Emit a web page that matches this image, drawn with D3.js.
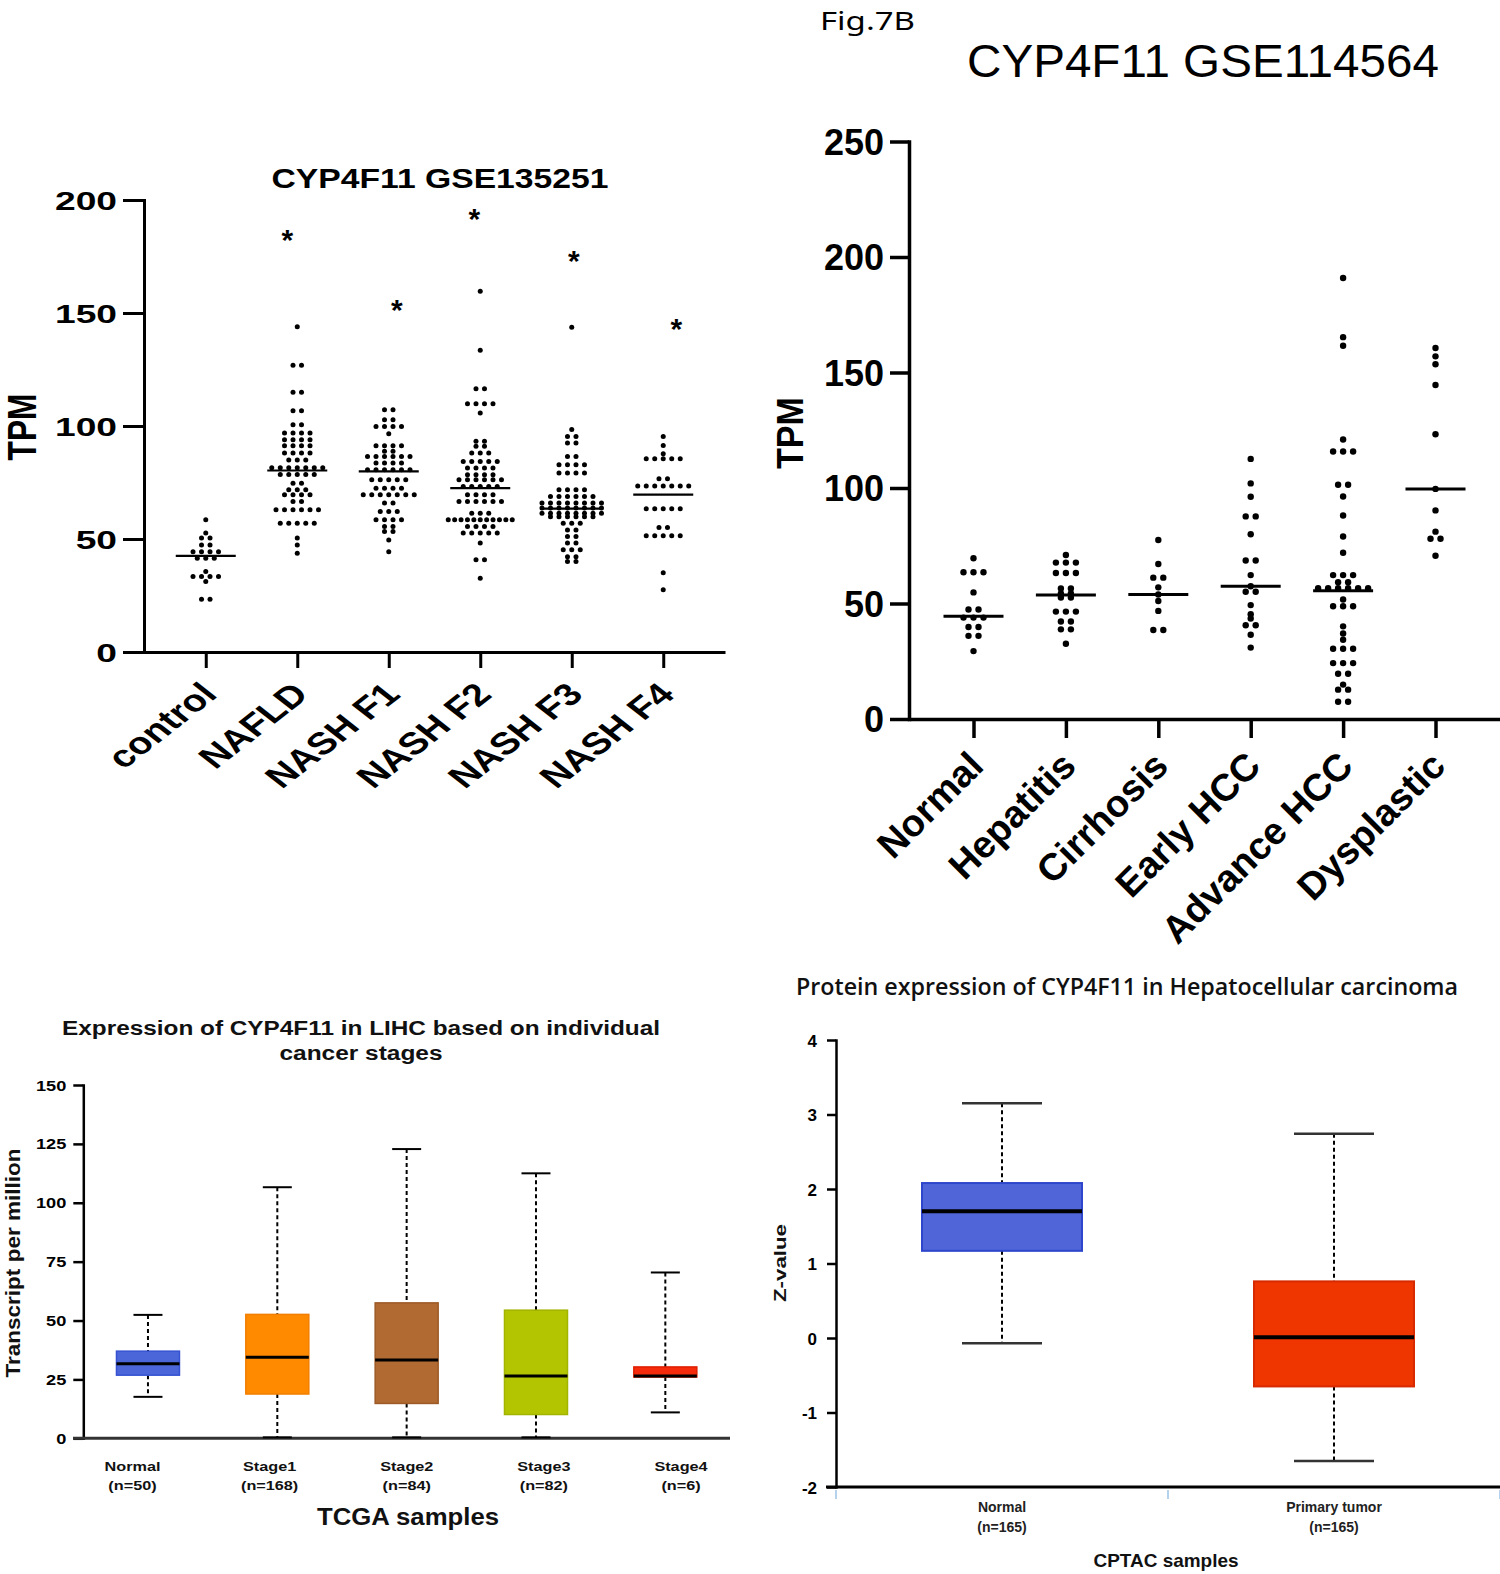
<!DOCTYPE html>
<html><head><meta charset="utf-8">
<script src="https://cdn.jsdelivr.net/npm/d3@7"></script>
<style>body{margin:0;background:#fff} svg{display:block;background:#fff}</style>
</head><body>
<svg id="c" width="1500" height="1574"></svg>
<script>
// ---------------- DATA ----------------
// Panel A (top-left): CYP4F11 GSE135251, TPM
const tlCategories = ["control", "NAFLD", "NASH F1", "NASH F2", "NASH F3", "NASH F4"];
const tlTicks = [0, 50, 100, 150, 200];
const tlControl = [58.5, 52.6, 50.4, 50.4, 47.4, 47.4, 44.4, 44.4, 44.4, 44.4, 41.5, 41.5, 41.5, 35.6, 33.4, 33.4, 33.4, 33.4, 31.2, 23.3, 23.3];
const tlNAFLD = [143.9, 126.9, 126.9, 114.9, 114.9, 106.8, 106.8, 100.6, 100.6, 96.9, 96.9, 96.9, 96.9, 93.9, 93.9, 93.9, 93.9,
  91.3, 91.3, 91.3, 91.3, 88, 88, 88, 88, 85, 85, 85, 81.5, 81.5, 81.5, 81.5, 81.5, 81.5, 81.5, 78.5, 78.5, 78.5, 78.5, 78.5,
  74.7, 74.7, 71.8, 71.8, 71.8, 69.6, 69.6, 69.6, 69.6, 66.6, 66.6, 62.9, 62.9, 62.9, 62.9, 62.9, 62.9, 57, 57, 57, 57, 57, 50.4, 47.4, 43.7];
const tlF1 = [107.2, 107.2, 102.8, 102.8, 99.8, 99.8, 99.8, 99.8, 96.6, 91.3, 91.3, 91.3, 91.3, 88.8, 88.8, 86.5, 86.5, 86.5, 86.5, 86.5, 86.5,
  83.6, 83.6, 83.6, 83.6, 80.6, 80.6, 80.6, 80.6, 80.6, 80.6, 76.2, 76.2, 76.2, 76.2, 76.2, 72.5, 72.5, 72.5, 72.5,
  69.6, 69.6, 69.6, 69.6, 69.6, 69.6, 69.6, 65.9, 65.9, 62.2, 62.2, 62.2, 58.5, 58.5, 58.5, 58.5, 55.5, 55.5, 53.3, 53.3, 49.6, 44.4];
const tlF2 = [159.6, 133.5, 116.5, 116.5, 109.9, 109.9, 109.9, 109.9, 105.7, 93.2, 93.2, 91, 91, 88, 88, 88, 84.3, 84.3, 84.3, 84.3, 84.3,
  81.4, 81.4, 81.4, 81.4, 78.4, 78.4, 78.4, 78.4, 76.2, 76.2, 76.2, 76.2, 76.2, 76.2, 73.2, 73.2, 73.2, 73.2, 73.2, 69.6, 69.6, 69.6, 69.6,
  66.6, 66.6, 66.6, 66.6, 66.6, 66.6, 61.4, 61.4, 61.4, 58.5, 58.5, 58.5, 58.5, 58.5, 58.5, 58.5, 58.5, 58.5, 58.5, 58.5,
  55.5, 55.5, 55.5, 55.5, 52.6, 52.6, 52.6, 52.6, 52.6, 48.2, 40.8, 40.8, 32.6];
const tlF3 = [143.7, 98.4, 95.4, 95.4, 92.5, 92.5, 86.5, 86.5, 82.9, 82.9, 82.9, 82.9, 79.2, 79.2, 79.2, 79.2, 71.8, 71.8, 71.8, 71.8,
  68.8, 68.8, 68.8, 68.8, 68.8, 68.8, 65.9, 65.9, 65.9, 65.9, 65.9, 65.9, 65.9, 65.9, 63.7, 63.7, 63.7, 63.7, 63.7, 63.7, 63.7, 63.7,
  61.4, 61.4, 61.4, 61.4, 61.4, 61.4, 61.4, 61.4, 59.9, 59.9, 59.9, 59.9, 59.9, 59.9, 57, 57, 57, 54, 54, 51.1, 51.1, 48.2, 48.2,
  45.2, 45.2, 45.2, 42.2, 42.2, 40, 40];
const tlF4 = [95.4, 91.4, 87.7, 85.5, 85.5, 85.5, 85.5, 85.5, 76.7, 76.7, 73.5, 73.5, 73.5, 73.5, 73.5, 73.5, 73.5,
  63.4, 63.4, 63.4, 63.4, 63.4, 55.1, 55.1, 51.4, 51.4, 51.4, 51.4, 51.4, 35.1, 27.5];
const tlMedians = [42.5, 80.3, 79.9, 72.5, 63.4, 69.6];
const tlStars = [null, 185.6, 154.6, 194.5, 175.9, 146.2];

// Panel B (top-right): CYP4F11 GSE114564, TPM
const trCategories = ["Normal", "Hepatitis", "Cirrhosis", "Early HCC", "Advance HCC", "Dysplastic"];
const trTicks = [0, 50, 100, 150, 200, 250];
const trNormal = [69.6, 63.5, 63.5, 63.5, 54.8, 47.4, 47.4, 43.9, 43.9, 43.9, 39.8, 39.8, 36, 36, 29.4];
const trHepatitis = [71, 67.7, 67.7, 67.7, 63.2, 63.2, 63.2, 56.5, 56.5, 54.3, 54.3, 52.6, 52.6, 46.5, 46.5, 46.5, 42.2, 42.2, 38.8, 38.8, 32.6];
const trCirrhosis = [77.5, 67.1, 61.2, 61.2, 57, 53.9, 51.1, 46.8, 38.5, 38.5];
const trEarly = [112.6, 102, 96.2, 87.7, 87.7, 80, 68.6, 68.6, 62.3, 57.5, 55.1, 55.1, 49.3, 45.4, 43.5, 40.6, 40.6, 36.5, 30.9];
const trAdvance = [190.9, 165.3, 161.6, 121, 115.8, 115.8, 115.8, 101.4, 101.4, 96.3, 88.1, 79, 72, 62.3, 62.3, 62.3, 59.2, 59.2,
  56.6, 56.6, 56.6, 56.6, 56.6, 56.6, 51.7, 48.8, 48.8, 48.8, 40.1, 37, 34.3, 30.4, 30.4, 30.4, 24.2, 24.2, 24.2,
  19.6, 19.6, 14.9, 12.7, 12.7, 7.5, 7.5];
const trDysplastic = [160.6, 157, 153.6, 144.6, 123.3, 99.6, 90.3, 81.1, 78, 78, 70.7];
const trMedians = [44.5, 53.7, 53.9, 57.5, 55.5, 99.6];

// Panel C (bottom-left): TCGA LIHC by stage, TPM box plot
const blCategories = ["Normal", "Stage1", "Stage2", "Stage3", "Stage4"];
const blCounts = ["(n=50)", "(n=168)", "(n=84)", "(n=82)", "(n=6)"];
const blTicks = [0, 25, 50, 75, 100, 125, 150];
const blWhiskerHigh = [52.4, 106.6, 122.8, 112.5, 70.4];
const blQ3 = [37.0, 52.6, 57.5, 54.4, 30.3];
const blMedian = [31.7, 34.4, 33.2, 26.4, 26.4];
const blQ1 = [26.8, 18.8, 14.8, 10.1, 26.0];
const blWhiskerLow = [17.6, 0.4, 0.4, 0.4, 11.0];
const blColors = ["#4a66d9", "#ff8a00", "#b06a32", "#b3c500", "#f52b0c"];
const blStrokes = ["#3652d2", "#f27e00", "#9d5a26", "#a3b400", "#e01f00"];

// Panel D (bottom-right): CPTAC protein, Z-value box plot
const brCategories = ["Normal", "Primary tumor"];
const brCounts = ["(n=165)", "(n=165)"];
const brTicks = [-2, -1, 0, 1, 2, 3, 4];
const brWhiskerHigh = [3.15, 2.74];
const brQ3 = [2.08, 0.76];
const brMedian = [1.70, 0.01];
const brQ1 = [1.17, -0.65];
const brWhiskerLow = [-0.07, -1.65];
const brColors = ["#4f65d8", "#ef3500"];
const brStrokes = ["#2d46cc", "#d72a00"];

// ---------------- HELPERS ----------------
const FONT = '"Liberation Sans", Arial, Helvetica, sans-serif';
const svg = d3.select('#c');

function addText(g, o) {
  const t = g.append('text').text(o.text)
    .attr('font-family', o.family || FONT)
    .attr('font-size', o.size)
    .attr('font-weight', o.weight || 'normal')
    .attr('text-anchor', o.anchor || 'middle')
    .attr('fill', o.fill || '#000');
  let tr = `translate(${o.x},${o.y})`;
  if (o.sx) tr += ` scale(${o.sx},1)`;
  if (o.rotate) tr += ` rotate(${o.rotate})`;
  t.attr('transform', tr);
  if (o.len) t.attr('textLength', o.len).attr('lengthAdjust', 'spacingAndGlyphs');
  return t;
}

function swarm(values, spacing, maxWidth) {
  const rows = d3.group(values, v => v);
  const pts = [];
  for (const [v, arr] of rows) {
    const n = arr.length;
    const sp = n > 1 ? Math.min(spacing, maxWidth / (n - 1)) : 0;
    arr.forEach((_, i) => pts.push({ v, dx: (i - (n - 1) / 2) * sp }));
  }
  return pts;
}

function styleYAxis(ax, o) {
  ax.attr('font-family', FONT);
  ax.select('.domain').attr('stroke', '#000').attr('stroke-width', o.w).attr('stroke-linecap', 'square');
  ax.selectAll('.tick line').attr('stroke', '#000').attr('stroke-width', o.w);
  ax.selectAll('.tick text')
    .attr('x', -o.gap / (o.sx || 1)).attr('dy', '0.36em')
    .attr('font-size', o.size).attr('font-weight', o.weight || 'bold')
    .attr('fill', '#000').attr('text-anchor', 'end')
    .attr('transform', o.sx ? `scale(${o.sx},1)` : null);
}

// ---------------- PANEL A ----------------
{
  const g = svg.append('g');
  const x = d3.scalePoint(tlCategories, [144, 725]).padding(0.675);
  const y = d3.scaleLinear([0, 200], [652, 200]);
  const groups = [tlControl, tlNAFLD, tlF1, tlF2, tlF3, tlF4];

  const yAx = g.append('g').attr('transform', 'translate(144,0)')
    .call(d3.axisLeft(y).tickValues(tlTicks).tickSize(21).tickSizeOuter(0));
  styleYAxis(yAx, { w: 3, gap: 27, size: 26, sx: 1.43 });

  const xAx = g.append('g').attr('transform', 'translate(0,652)')
    .call(d3.axisBottom(x).tickSize(16).tickSizeOuter(0));
  xAx.select('.domain').attr('stroke', '#000').attr('stroke-width', 3);
  xAx.selectAll('.tick line').attr('stroke', '#000').attr('stroke-width', 3);
  xAx.selectAll('.tick text').remove();

  tlCategories.forEach(c => addText(g, { x: x(c) + 13, y: 652 + 44, text: c, size: 31, weight: 'bold', anchor: 'end', rotate: -45, sx: 1.28 }));

  groups.forEach((vals, i) => {
    const cx = x(tlCategories[i]);
    g.append('g').selectAll('circle').data(swarm(vals, 8.5, 64)).join('circle')
      .attr('cx', d => cx + d.dx).attr('cy', d => y(d.v)).attr('r', 2.5).attr('fill', '#000');
    g.append('line').attr('x1', cx - 30).attr('x2', cx + 30)
      .attr('y1', y(tlMedians[i])).attr('y2', y(tlMedians[i])).attr('stroke', '#000').attr('stroke-width', 2.2);
  });

  const starDx = [0, -10, 8, -6, 2, 13];
  tlStars.forEach((s, i) => {
    if (s == null) return;
    addText(g, { x: x(tlCategories[i]) + starDx[i], y: y(s) + 17, text: '*', size: 30, weight: 'bold' });
  });

  addText(g, { x: 440, y: 188, text: 'CYP4F11 GSE135251', size: 28, weight: 'bold', len: 337 });
  addText(g, { x: 36, y: 427, text: 'TPM', size: 40, weight: 'bold', rotate: -90, len: 67 });
}

// ---------------- PANEL B ----------------
{
  const g = svg.append('g');
  const x = d3.scalePoint(trCategories, [909, 1500]).padding(0.698);
  const y = d3.scaleLinear([0, 250], [719, 141.5]);
  const groups = [trNormal, trHepatitis, trCirrhosis, trEarly, trAdvance, trDysplastic];

  const yAx = g.append('g').attr('transform', 'translate(909,0)')
    .call(d3.axisLeft(y).tickValues(trTicks).tickSize(19).tickSizeOuter(0));
  styleYAxis(yAx, { w: 3.5, gap: 25, size: 36 });

  const xAx = g.append('g').attr('transform', 'translate(0,719)')
    .call(d3.axisBottom(x).tickSize(19).tickSizeOuter(0));
  xAx.select('.domain').attr('stroke', '#000').attr('stroke-width', 3.5);
  xAx.selectAll('.tick line').attr('stroke', '#000').attr('stroke-width', 3.5);
  xAx.selectAll('.tick text').remove();

  trCategories.forEach(c => addText(g, { x: x(c) + 12, y: 719 + 49, text: c, size: 38, weight: 'bold', anchor: 'end', rotate: -45 }));

  groups.forEach((vals, i) => {
    const cx = x(trCategories[i]);
    g.append('g').selectAll('circle').data(swarm(vals, 10, 80)).join('circle')
      .attr('cx', d => cx + d.dx).attr('cy', d => y(d.v)).attr('r', 3.2).attr('fill', '#000');
    g.append('line').attr('x1', cx - 30).attr('x2', cx + 30)
      .attr('y1', y(trMedians[i])).attr('y2', y(trMedians[i])).attr('stroke', '#000').attr('stroke-width', 3);
  });

  addText(g, { x: 1203, y: 77, text: 'CYP4F11 GSE114564', size: 47, len: 472 });
  addText(g, { x: 803, y: 433, text: 'TPM', size: 36, weight: 'bold', rotate: -90, len: 72 });
  addText(g, { x: 820, y: 30, text: 'Fig.7B', size: 26, anchor: 'start', family: '"Noto Sans", "Open Sans", sans-serif', len: 95 });
}

// ---------------- PANEL C ----------------
{
  const g = svg.append('g');
  const x = d3.scalePoint(blCategories, [83.3, 730]).padding(0.5);
  const xLabel = d3.scalePoint(blCategories, [132.5, 681]);
  const y = d3.scaleLinear([0, 150], [1438.3, 1085]);
  const bw = 63, cw = 29;

  const yAx = g.append('g').attr('transform', 'translate(83.3,0)')
    .call(d3.axisLeft(y).tickValues(blTicks).tickSize(10).tickSizeOuter(0));
  styleYAxis(yAx, { w: 2.5, gap: 17, size: 14, sx: 1.3 });
  g.append('line').attr('x1', 73).attr('x2', 730).attr('y1', y(0)).attr('y2', y(0)).attr('stroke', '#333').attr('stroke-width', 3);

  blCategories.forEach((c, i) => {
    const cx = x(c);
    g.append('line').attr('x1', cx).attr('x2', cx).attr('y1', y(blWhiskerHigh[i])).attr('y2', y(blQ3[i]))
      .attr('stroke', '#000').attr('stroke-width', 2).attr('stroke-dasharray', '4,3');
    g.append('line').attr('x1', cx).attr('x2', cx).attr('y1', y(blQ1[i])).attr('y2', y(blWhiskerLow[i]))
      .attr('stroke', '#000').attr('stroke-width', 2).attr('stroke-dasharray', '4,3');
    [blWhiskerHigh[i], blWhiskerLow[i]].forEach(v => g.append('line')
      .attr('x1', cx - cw / 2).attr('x2', cx + cw / 2).attr('y1', y(v)).attr('y2', y(v))
      .attr('stroke', '#000').attr('stroke-width', 2));
    g.append('rect').attr('x', cx - bw / 2).attr('width', bw)
      .attr('y', y(blQ3[i])).attr('height', y(blQ1[i]) - y(blQ3[i]))
      .attr('fill', blColors[i]).attr('stroke', blStrokes[i]).attr('stroke-width', 1.5);
    g.append('line').attr('x1', cx - bw / 2).attr('x2', cx + bw / 2).attr('y1', y(blMedian[i])).attr('y2', y(blMedian[i]))
      .attr('stroke', '#000').attr('stroke-width', 3);
    addText(g, { x: xLabel(c), y: 1471, text: c, size: 12.5, weight: 'bold', sx: 1.3, fill: '#111' });
    addText(g, { x: xLabel(c), y: 1490, text: blCounts[i], size: 12.5, weight: 'bold', sx: 1.3, fill: '#111' });
  });

  addText(g, { x: 361, y: 1035, text: 'Expression of CYP4F11 in LIHC based on individual', size: 20, weight: 'bold', len: 598, fill: '#111' });
  addText(g, { x: 361, y: 1060, text: 'cancer stages', size: 20, weight: 'bold', len: 163, fill: '#111' });
  addText(g, { x: 408, y: 1525, text: 'TCGA samples', size: 23, weight: 'bold', len: 182, fill: '#111' });
  addText(g, { x: 20, y: 1263, text: 'Transcript per million', size: 21, weight: 'bold', rotate: -90, len: 229, fill: '#111' });
}

// ---------------- PANEL D ----------------
{
  const g = svg.append('g');
  const x = d3.scalePoint(brCategories, [836, 1500]).padding(0.5);
  const y = d3.scaleLinear([-2, 4], [1487, 1040]);
  const bw = 160, cw = 80;

  const yAx = g.append('g').attr('transform', 'translate(836,0)')
    .call(d3.axisLeft(y).tickValues(brTicks).tickFormat(d => String(d)).tickSize(9).tickSizeOuter(0));
  styleYAxis(yAx, { w: 2.5, gap: 19, size: 17 });
  g.append('line').attr('x1', 826).attr('x2', 1500).attr('y1', y(-2)).attr('y2', y(-2)).attr('stroke', '#000').attr('stroke-width', 3);
  const step = x.step();
  [836, 836 + step, 1500].forEach(px => g.append('line').attr('x1', px).attr('x2', px)
    .attr('y1', y(-2) + 3).attr('y2', y(-2) + 12).attr('stroke', '#9cc3e6').attr('stroke-width', 1.5));

  brCategories.forEach((c, i) => {
    const cx = x(c);
    g.append('line').attr('x1', cx).attr('x2', cx).attr('y1', y(brWhiskerHigh[i])).attr('y2', y(brQ3[i]))
      .attr('stroke', '#000').attr('stroke-width', 2).attr('stroke-dasharray', '4,3');
    g.append('line').attr('x1', cx).attr('x2', cx).attr('y1', y(brQ1[i])).attr('y2', y(brWhiskerLow[i]))
      .attr('stroke', '#000').attr('stroke-width', 2).attr('stroke-dasharray', '4,3');
    [brWhiskerHigh[i], brWhiskerLow[i]].forEach(v => g.append('line')
      .attr('x1', cx - cw / 2).attr('x2', cx + cw / 2).attr('y1', y(v)).attr('y2', y(v))
      .attr('stroke', '#333').attr('stroke-width', 2.5));
    g.append('rect').attr('x', cx - bw / 2).attr('width', bw)
      .attr('y', y(brQ3[i])).attr('height', y(brQ1[i]) - y(brQ3[i]))
      .attr('fill', brColors[i]).attr('stroke', brStrokes[i]).attr('stroke-width', 2);
    g.append('line').attr('x1', cx - bw / 2).attr('x2', cx + bw / 2).attr('y1', y(brMedian[i])).attr('y2', y(brMedian[i]))
      .attr('stroke', '#000').attr('stroke-width', 4);
    addText(g, { x: cx, y: 1512, text: c, size: 14, weight: 'bold', fill: '#222' });
    addText(g, { x: cx, y: 1532, text: brCounts[i], size: 14, weight: 'bold', fill: '#222' });
  });

  addText(g, { x: 1127, y: 995, text: 'Protein expression of CYP4F11 in Hepatocellular carcinoma', size: 24, weight: 600,
    family: '"Open Sans", "Noto Sans", sans-serif', len: 662, fill: '#111' });
  addText(g, { x: 1166, y: 1567, text: 'CPTAC samples', size: 19, weight: 'bold', len: 145, fill: '#111' });
  addText(g, { x: 786, y: 1263, text: 'Z-value', size: 17, weight: 'bold', rotate: -90, len: 78, fill: '#111' });
}
</script>
</body></html>
